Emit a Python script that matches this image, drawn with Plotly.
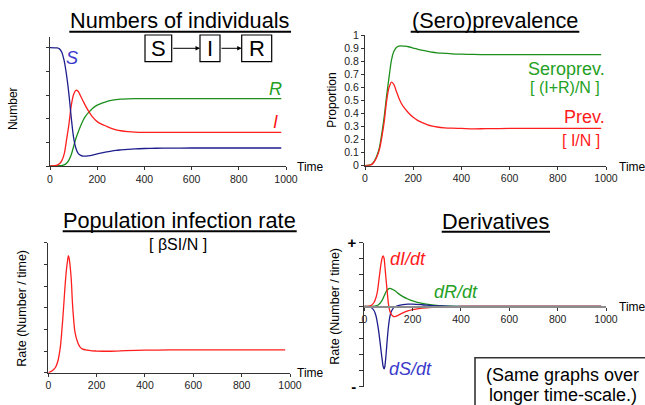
import plotly.graph_objects as go

W, H = 645, 405

# ---------------- data ----------------
# Panel 1: numbers of individuals (proportion of N)
t_num = [0, 20, 30, 40, 50, 60, 70, 80, 90, 100, 110, 120, 130, 140, 150, 160, 180, 200, 220, 240,
         260, 280, 300, 330, 360, 400, 450, 500, 600, 700, 800, 900, 980]
S_num = [1.0, 0.999, 0.998, 0.99, 0.962, 0.89, 0.77, 0.61, 0.41, 0.24, 0.148, 0.105, 0.09, 0.084,
         0.083, 0.085, 0.092, 0.102, 0.111, 0.119, 0.126, 0.132, 0.136, 0.141, 0.145, 0.148, 0.15,
         0.151, 0.152, 0.152, 0.152, 0.152, 0.152]
I_num = [0.001, 0.004, 0.008, 0.018, 0.045, 0.10, 0.22, 0.35, 0.51, 0.605, 0.64, 0.63, 0.59, 0.55,
         0.51, 0.475, 0.415, 0.375, 0.352, 0.335, 0.318, 0.306, 0.298, 0.291, 0.287, 0.285, 0.285,
         0.285, 0.285, 0.285, 0.285, 0.285, 0.285]
R_num = [0, 0, 0.001, 0.002, 0.004, 0.01, 0.023, 0.05, 0.095, 0.165, 0.235, 0.29, 0.34, 0.385, 0.42,
         0.445, 0.487, 0.515, 0.532, 0.545, 0.554, 0.561, 0.565, 0.568, 0.57, 0.57, 0.57, 0.57, 0.57,
         0.57, 0.57, 0.57, 0.57]

# Panel 2: (sero)prevalence
t_prev = t_num
seroprev = [0, 0.005, 0.015, 0.04, 0.08, 0.14, 0.25, 0.38, 0.54, 0.68, 0.81, 0.875, 0.905, 0.915,
            0.917, 0.915, 0.91, 0.90, 0.89, 0.882, 0.875, 0.868, 0.864, 0.86, 0.856, 0.853, 0.851,
            0.85, 0.85, 0.85, 0.85, 0.85, 0.85]
prev = [0, 0.004, 0.012, 0.035, 0.07, 0.125, 0.22, 0.34, 0.5, 0.6, 0.64, 0.62, 0.57, 0.52, 0.48,
        0.45, 0.405, 0.37, 0.345, 0.328, 0.313, 0.303, 0.296, 0.29, 0.287, 0.285, 0.282, 0.283,
        0.285, 0.285, 0.285, 0.285, 0.285]

# Panel 3: population infection rate (arbitrary units)
t_rate = [0, 10, 20, 30, 40, 50, 55, 60, 65, 70, 75, 80, 83, 86, 90, 95, 100, 105, 110, 120, 130,
          140, 160, 180, 200, 240, 280, 320, 400, 500, 600, 800, 980]
inf_rate = [0, 0.05, 0.12, 0.25, 0.55, 1.2, 1.8, 2.5, 3.3, 4.1, 4.75, 5.2, 5.4, 5.3, 4.95, 4.3,
            3.2, 2.45, 1.9, 1.45, 1.2, 1.1, 1.04, 1.01, 1.0, 0.99, 1.0, 1.02, 1.04, 1.05, 1.05,
            1.05, 1.05]

# Panel 4: derivatives (arbitrary units)
t_der = [0, 20, 30, 40, 45, 50, 55, 60, 65, 70, 75, 78, 82, 85, 90, 95, 100, 105, 110, 120,
         130, 140, 160, 180, 200, 240, 280, 320, 360, 400, 500, 600, 700, 800, 900, 980]
dI = [0, 0.03, 0.08, 0.25, 0.42, 0.65, 1.0, 1.6, 2.2, 2.75, 3.1, 3.17, 3.0, 2.55, 1.7, 0.9, 0.15,
      -0.25, -0.45, -0.62, -0.62, -0.55, -0.4, -0.28, -0.2, -0.1, -0.05, -0.025, -0.01, 0,
      0, 0, 0, 0, 0, 0]
dR = [0, 0, 0.005, 0.02, 0.03, 0.05, 0.08, 0.13, 0.2, 0.3, 0.42, 0.52, 0.66, 0.76, 0.92, 1.03,
      1.1, 1.13, 1.12, 1.05, 0.95, 0.82, 0.62, 0.47, 0.35, 0.19, 0.1, 0.045, 0.02, 0.01,
      0, 0, 0, 0, 0, 0]
dS = [0, -0.03, -0.08, -0.25, -0.42, -0.7, -1.1, -1.6, -2.2, -2.85, -3.45, -3.75, -3.9, -3.75,
      -3.0, -2.05, -1.25, -0.7, -0.38, -0.1, 0.0, 0.06, 0.12, 0.15, 0.15, 0.11, 0.06, 0.03,
      0.01, 0, 0, 0, 0, 0, 0, 0]

time_ticks = [0, 200, 400, 600, 800, 1000]

# ---------------- styling ----------------
FONT = "Liberation Sans, Arial, sans-serif"
BLUE, RED, GREEN = "#1E1E8E", "#FF1E1E", "#1C8F1C"
BLUE_T, RED_T, GREEN_T = "#3A3ACB", "#FF1A1A", "#24A024"
AX = "#333333"


def px(x):
    return x / W


def py(y):
    return 1 - y / H


fig = go.Figure()


def line(x, y, color, xa, ya):
    fig.add_trace(go.Scatter(x=x, y=y, mode="lines", xaxis=xa, yaxis=ya,
                             line=dict(color=color, width=1.3, shape="spline", smoothing=0.8),
                             showlegend=False, hoverinfo="skip"))


line(t_num, R_num, GREEN, "x", "y")
line(t_num, I_num, RED, "x", "y")
line(t_num, S_num, BLUE, "x", "y")
line(t_prev, seroprev, GREEN, "x2", "y2")
line(t_prev, prev, RED, "x2", "y2")
line(t_rate, inf_rate, RED, "x3", "y3")
line(t_der, dR, GREEN, "x4", "y4")
line(t_der, dS, BLUE, "x4", "y4")
line(t_der, dI, RED, "x4", "y4")

xcommon = dict(range=[0, 1000], tickvals=time_ticks, ticks="outside", ticklen=3, tickwidth=1,
               tickcolor=AX, showline=True, linecolor=AX, linewidth=1, showgrid=False,
               zeroline=False, tickfont=dict(family=FONT, size=10.5, color="#222"),
               automargin=False, fixedrange=True)
ycommon = dict(ticks="outside", ticklen=3, tickwidth=1, tickcolor=AX, showline=True,
               linecolor=AX, linewidth=1, showgrid=False, zeroline=False,
               tickfont=dict(family=FONT, size=10.5, color="#222"), automargin=False,
               fixedrange=True)

fig.update_layout(
    width=W, height=H, autosize=False,
    margin=dict(l=0, r=0, t=0, b=0),
    paper_bgcolor="white", plot_bgcolor="rgba(0,0,0,0)",
    font=dict(family=FONT, color="black"),
    hovermode=False,
    xaxis=dict(domain=[px(50), px(286)], anchor="y", **xcommon),
    yaxis=dict(domain=[py(166), py(36.7)], anchor="x", range=[0, 1.093],
               tickvals=[0, 0.2, 0.4, 0.6, 0.8, 1.0], showticklabels=False, **ycommon),
    xaxis2=dict(domain=[px(365), px(606)], anchor="y2", **xcommon),
    yaxis2=dict(domain=[py(165.7), py(35)], anchor="x2", range=[0, 1], dtick=0.1, tick0=0,
                **ycommon),
    xaxis3=dict(domain=[px(48.3), px(290)], anchor="y3", **xcommon),
    yaxis3=dict(domain=[py(372.7), py(242.7)], anchor="x3", range=[0, 6],
                tickvals=[0, 1, 2, 3, 4, 5, 6], showticklabels=False, **ycommon),
    xaxis4=dict(domain=[px(364.3), px(606)], anchor="free", position=py(306.5),
                **{**xcommon, "linecolor": "#8C8C8C", "linewidth": 2}),
    yaxis4=dict(domain=[py(386.5), py(242.5)], anchor="x4", range=[-5, 4],
                tickvals=[-5, -4, -3, -2, -1, 0, 1, 2, 3, 4],
                ticktext=["<b>-</b>", "", "", "", "", "", "", "", "", "<b>+</b>"],
                **{**ycommon, "tickfont": dict(family=FONT, size=15, color="black"),
                   "ticklen": 4}),
)

ann = []


def text(x, y, s, size, color="black", xanchor="center", italic=False, angle=0):
    if italic:
        s = "<i>" + s + "</i>"
    ann.append(dict(x=px(x), y=py(y), xref="paper", yref="paper", text=s, showarrow=False,
                    xanchor=xanchor, yanchor="middle", textangle=angle,
                    font=dict(family=FONT, size=size, color=color)))


# titles
text(180, 20.8, "Numbers of individuals", 21.7)
text(495, 20.5, "(Sero)prevalence", 21.7)
text(179.7, 220.3, "Population infection rate", 21.7)
text(495.8, 221, "Derivatives", 21.7)
text(177.5, 244.3, "[ βSI/N ]", 16)

# axis titles
text(13.8, 108.3, "Number", 12, angle=-90)
text(331.7, 100, "Proportion", 12, angle=-90)
text(21.7, 308, "Rate (Number / time)", 12.5, angle=-90)
text(335, 306.7, "Rate (Number / time)", 12.5, angle=-90)
text(295, 166.7, "Time", 12, xanchor="left")
text(616.7, 166.7, "Time", 12, xanchor="left")
text(295, 373.3, "Time", 12, xanchor="left")
text(616.7, 306.7, "Time", 12, xanchor="left")

# series labels
text(72, 57.8, "S", 18, BLUE_T, italic=True)
text(275, 88.5, "R", 18, GREEN_T, italic=True)
text(275.5, 121.7, "I", 18, RED_T, italic=True)
text(606.7, 69, "Seroprev.", 18, GREEN_T, xanchor="right")
text(601.7, 88, "[ (I+R)/N ]", 16, GREEN_T, xanchor="right")
text(606.7, 117.5, "Prev.", 18, RED_T, xanchor="right")
text(601.7, 140.5, "[ I/N ]", 16, RED_T, xanchor="right")
text(408, 258.7, "dI/dt", 18, RED_T, italic=True)
text(455.8, 291.7, "dR/dt", 18, GREEN_T, italic=True)
text(410, 369.2, "dS/dt", 18, BLUE_T, italic=True)

# SIR compartments
text(158.3, 48.3, "S", 22)
text(210, 48.3, "I", 22)
text(256.7, 48.3, "R", 22)
for tip, tail in [(200, 171.7), (241.7, 220)]:
    ann.append(dict(x=px(tip), y=py(48.3), xref="paper", yref="paper", text="", showarrow=True,
                    ax=tail - tip, ay=0, axref="pixel", ayref="pixel", arrowhead=2,
                    arrowsize=0.9, arrowwidth=1, arrowcolor="black"))

# note box text
text(562.5, 375, "(Same graphs over", 18)
text(563, 395, "longer time-scale.)", 18)

fig.update_layout(annotations=ann)

shapes = []
# title underlines
for x0, x1, y in [(69.3, 291, 31.7), (410.7, 579.3, 31.7), (62.7, 296.7, 231.2), (441.7, 550, 231.7)]:
    shapes.append(dict(type="line", xref="paper", yref="paper", x0=px(x0), x1=px(x1),
                       y0=py(y), y1=py(y), line=dict(color="black", width=2)))
# compartment boxes
for x0, x1 in [(145, 171.7), (200, 220), (241.7, 271.7)]:
    shapes.append(dict(type="rect", xref="paper", yref="paper", x0=px(x0), x1=px(x1),
                       y0=py(61.7), y1=py(35), line=dict(color="black", width=1.2)))
# note box
shapes.append(dict(type="rect", xref="paper", yref="paper", x0=px(475), x1=px(660),
                   y0=py(420), y1=py(357.7), line=dict(color="#333", width=1.6)))
fig.update_layout(shapes=shapes)

# remove the browser's default 8 px page margin so the figure fills the window exactly
fig.write_html("out.html",
               config={"displayModeBar": False, "staticPlot": True},
               post_script="document.body.style.margin='0';document.body.style.overflow='hidden';")
